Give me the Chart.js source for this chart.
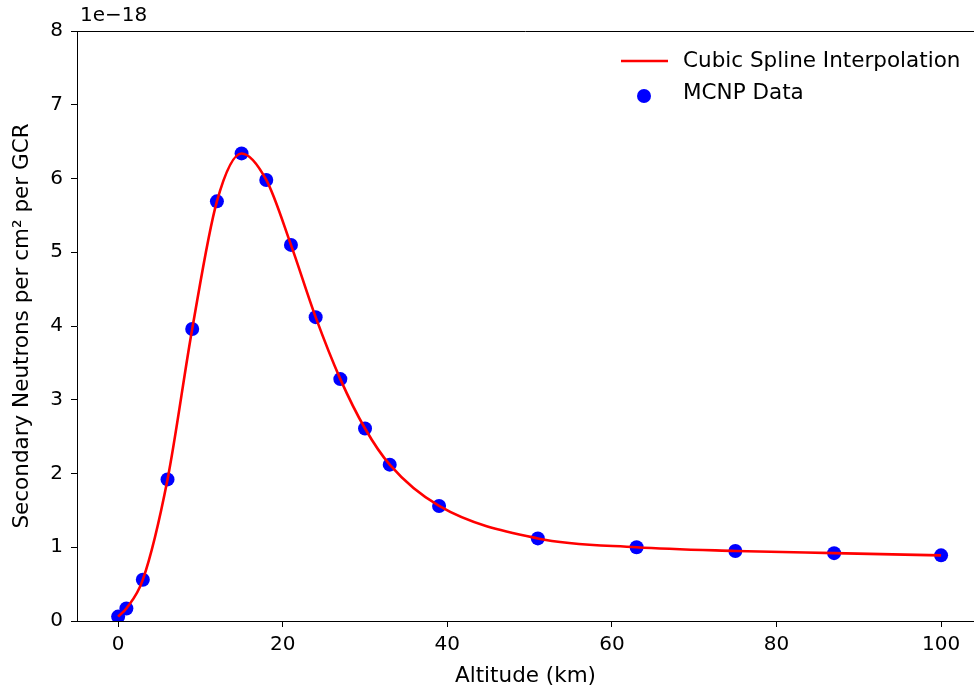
<!DOCTYPE html>
<html>
<head>
<meta charset="utf-8">
<script src="https://cdn.jsdelivr.net/npm/chart.js@4"></script>
<style>
  html, body { margin: 0; padding: 0; background: #fff; }
  #wrap { width: 974px; height: 692px; position: relative; }
</style>
</head>
<body>
<div id="wrap"><canvas id="c" width="974" height="692"></canvas></div>
<script>
// Data (values in units of 1e-18 neutrons per cm^2 per GCR)
const altitudeKm = [0, 1, 3, 6, 9, 12, 15, 18, 21, 24, 27, 30, 33, 39, 51, 63, 75, 87, 100];
const neutrons = [0.06, 0.17, 0.56, 1.92, 3.96, 5.69, 6.34, 5.98, 5.10, 4.12, 3.28, 2.61, 2.12, 1.56, 1.12, 1.00, 0.95, 0.92, 0.89];
const yScaleExponentLabel = '1e\u221218';
const xTickValues = [0, 20, 40, 60, 80, 100];
const yTickValues = [0, 1, 2, 3, 4, 5, 6, 7, 8];
const seriesNames = ['Cubic Spline Interpolation', 'MCNP Data'];

const FONT = "'DejaVu Sans', sans-serif";
const points = altitudeKm.map((x, i) => ({ x: x, y: neutrons[i] }));

const decorPlugin = {
  id: 'decor',
  afterDraw(chart) {
    const ctx = chart.ctx;
    const a = chart.chartArea;
    ctx.save();
    // top spine
    ctx.strokeStyle = '#000';
    ctx.lineWidth = 1;
    ctx.beginPath();
    ctx.moveTo(a.left, a.top + 0.5);
    ctx.lineTo(a.right, a.top + 0.5);
    ctx.stroke();
    // offset text
    ctx.fillStyle = '#000';
    ctx.font = '20px ' + FONT;
    ctx.textAlign = 'left';
    ctx.textBaseline = 'middle';
    ctx.fillText(yScaleExponentLabel, 80, 16);
    // legend
    ctx.strokeStyle = '#ff0000';
    ctx.lineWidth = 2.6;
    ctx.beginPath();
    ctx.moveTo(621, 61);
    ctx.lineTo(668, 61);
    ctx.stroke();
    ctx.fillStyle = '#0000ff';
    ctx.beginPath();
    ctx.arc(644, 96, 7, 0, Math.PI * 2);
    ctx.fill();
    ctx.fillStyle = '#000';
    ctx.font = '21.5px ' + FONT;
    ctx.fillText(seriesNames[0], 683, 61);
    ctx.fillText(seriesNames[1], 683, 93);
    ctx.restore();
  }
};

new Chart(document.getElementById('c'), {
  type: 'scatter',
  data: {
    datasets: [
      {
        type: 'line',
        label: seriesNames[0],
        data: points,
        borderColor: '#ff0000',
        borderWidth: 2.6,
        pointRadius: 0,
        fill: false,
        cubicInterpolationMode: 'monotone',
        order: 0
      },
      {
        type: 'scatter',
        label: seriesNames[1],
        data: points,
        backgroundColor: '#0000ff',
        borderColor: '#0000ff',
        borderWidth: 0,
        pointRadius: 7,
        order: 1
      }
    ]
  },
  options: {
    responsive: false,
    animation: false,
    layout: { autoPadding: false, padding: { top: 31, right: 0, left: 0, bottom: 0 } },
    plugins: { legend: { display: false }, tooltip: { enabled: false } },
    scales: {
      x: {
        type: 'linear',
        min: -5,
        max: 104,
        afterFit(scale) { scale.height = 71; scale.paddingLeft = 0; scale.paddingRight = 0; },
        afterBuildTicks(scale) { scale.ticks = xTickValues.map(v => ({ value: v })); },
        grid: { display: true, drawOnChartArea: false, drawTicks: true, tickLength: 6, tickColor: '#000', tickWidth: 1 },
        border: { display: true, color: '#000', width: 1 },
        ticks: { color: '#000', font: { family: FONT, size: 20 }, padding: 6, maxRotation: 0, autoSkip: false,
                 callback: v => String(v) },
        title: { display: true, text: 'Altitude (km)', color: '#000', font: { family: FONT, size: 21.5 }, padding: { top: 0, bottom: 3 } }
      },
      y: {
        type: 'linear',
        min: 0,
        max: 8,
        afterFit(scale) { scale.width = 77; scale.paddingTop = 0; scale.paddingBottom = 0; },
        afterBuildTicks(scale) { scale.ticks = yTickValues.map(v => ({ value: v })); },
        grid: { display: true, drawOnChartArea: false, drawTicks: true, tickLength: 6, tickColor: '#000', tickWidth: 1 },
        border: { display: true, color: '#000', width: 1 },
        ticks: { color: '#000', font: { family: FONT, size: 20 }, padding: 8, autoSkip: false,
                 callback: v => String(v) },
        title: { display: true, text: 'Secondary Neutrons per cm\u00b2 per GCR', color: '#000', font: { family: FONT, size: 21.5 }, padding: { top: 10, bottom: 0 } }
      }
    }
  },
  plugins: [decorPlugin]
});
</script>
</body>
</html>
